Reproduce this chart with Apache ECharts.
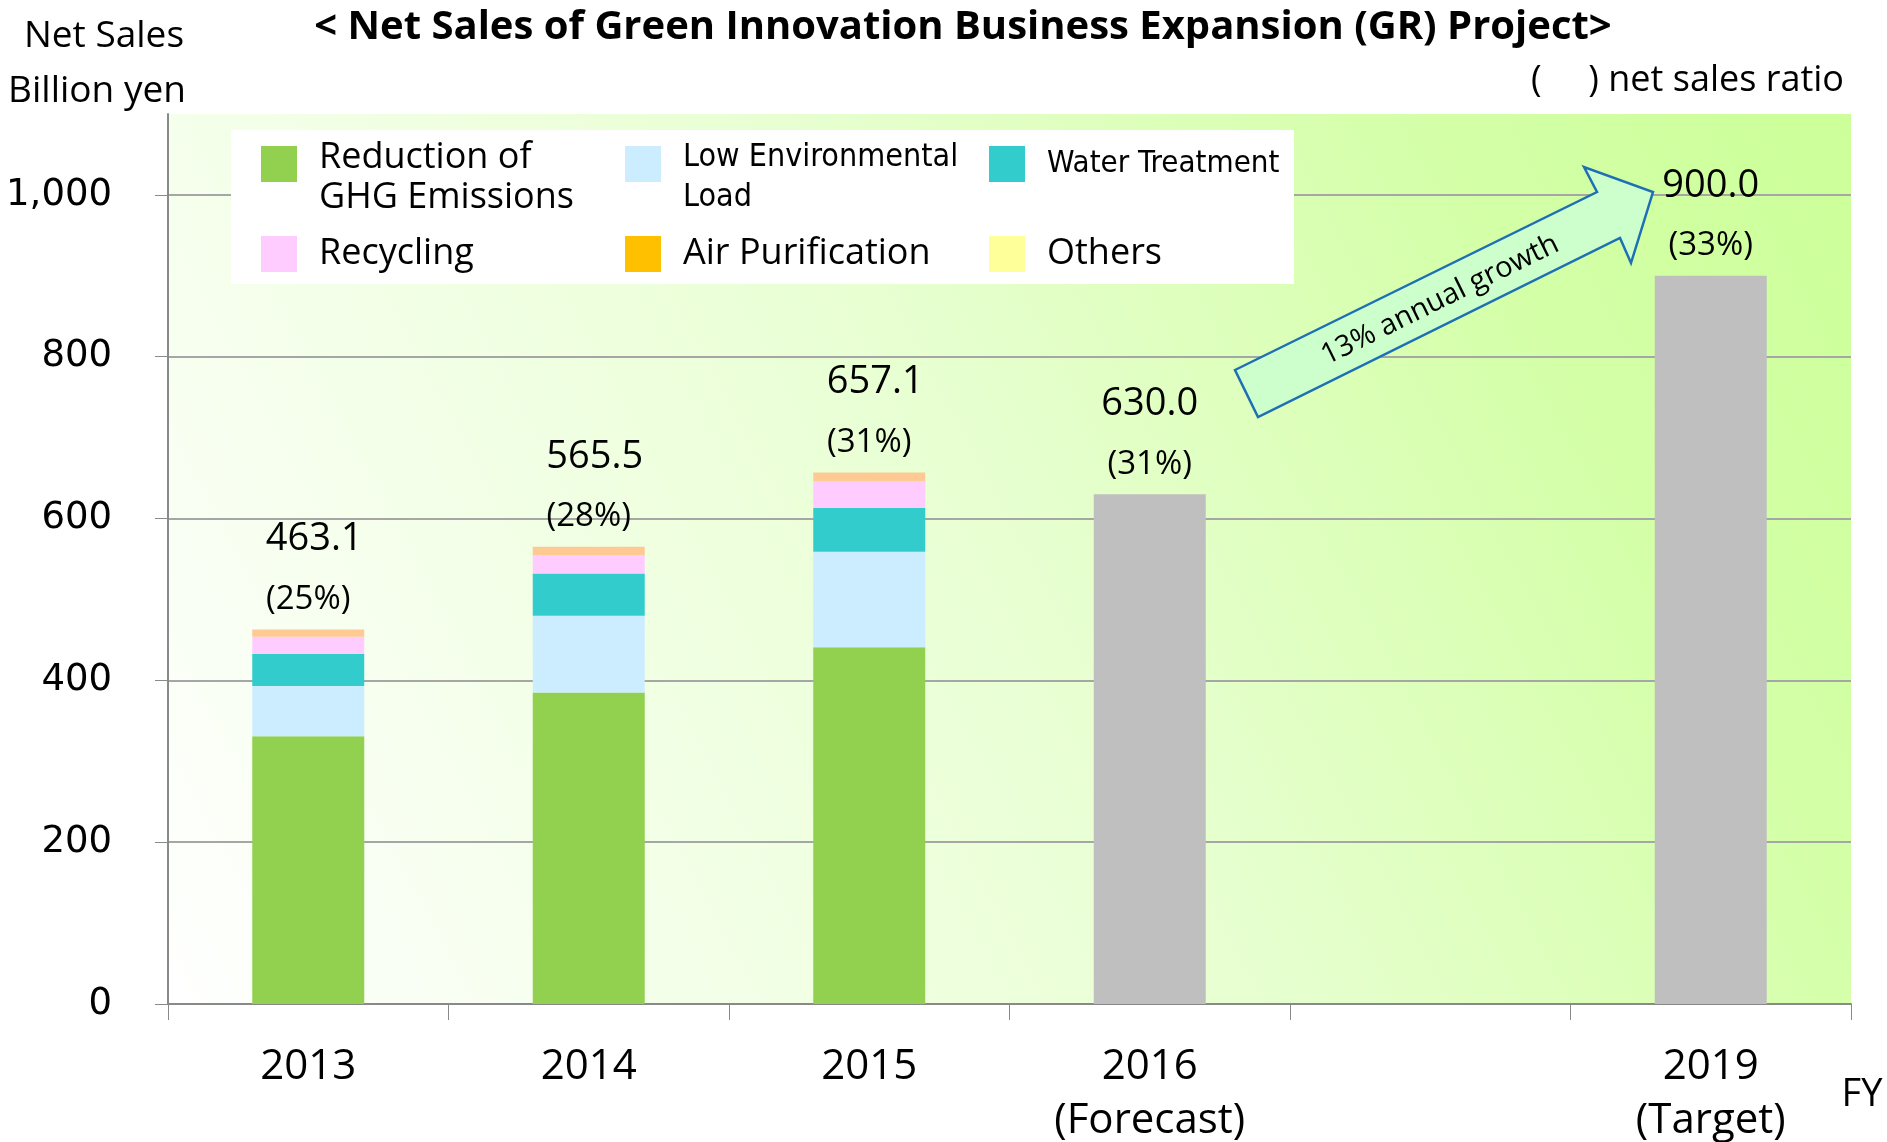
<!DOCTYPE html>
<html>
<head>
<meta charset="utf-8">
<title>Net Sales of GR Project</title>
<script src="https://cdn.jsdelivr.net/npm/echarts@6.0.0/dist/echarts.min.js"></script>
<style>
  html, body { margin: 0; padding: 0; background: #fff; }
  #main { width: 1887px; height: 1142px; }
</style>
</head>
<body>
<div id="main"></div>
<script>
// categories (FY), blank slot between 2016 and 2019
var years = ['2013', '2014', '2015', '2016\n(Forecast)', '', '2019\n(Target)'];

// segment values, billion yen
var ghg       = [331, 385, 441, '-', '-', '-'];
var lowEnv    = [62, 95, 118, '-', '-', '-'];
var water     = [40, 52, 54, '-', '-', '-'];
var recycling = [21, 23, 33, '-', '-', '-'];
var airPur    = [9, 10, 11, '-', '-', '-'];
var others    = [0, 0, 0, '-', '-', '-'];
var planTotal = ['-', '-', '-', 630, '-', 900];

// labels above bars
var totalText = ['463.1', '565.5', '657.1', '630.0', '', '900.0'];
var ratioText = ['(25%)', '(28%)', '(31%)', '(31%)', '', '(33%)'];
var yTicks = [0, 200, 400, 600, 800, 1000];

var font = '"Open Sans", sans-serif';
var narrow = '"Liberation Sans Narrow", "DejaVu Sans Condensed", "Open Sans", sans-serif';

var chartDom = document.getElementById('main');
var myChart = echarts.init(chartDom);
var option;

function topLabel(p) {
    var i = p.dataIndex;
    return '{v|' + totalText[i] + '}\n{p|' + ratioText[i] + '}';
}
function makeLabel(shift) {
    return {
        show: true,
        position: 'top',
        distance: 0,
        color: '#000',
        fontFamily: font,
        formatter: topLabel,
        rich: {
            v: {fontSize: 38, lineHeight: 60, fontFamily: font, color: '#000', padding: [0, 0, 0, shift]},
            p: {fontSize: 33, lineHeight: 60, fontFamily: font, color: '#000'}
        }
    };
}

// square at the top of a taller box so two-line names hang below the first line
var sq2 = 'path://M0,0h36v36h-36z M0,63.99h0.01v0.01h-0.01z';

var legendText = {
    fontSize: 36,
    lineHeight: 40,
    fontFamily: font,
    color: '#000',
    width: 296,
    overflow: 'none',
    padding: [0, 0, 0, 17],
    rich: {
        c: {fontSize: 32, lineHeight: 40, fontFamily: narrow, color: '#000'},
        w: {fontSize: 31, lineHeight: 40, fontFamily: narrow, color: '#000'},
        e: {fontSize: 10, lineHeight: 28}
    }
};

option = {
    animation: false,
    backgroundColor: '#fff',
    grid: {
        left: 168,
        right: 36,
        top: 114,
        bottom: 138,
        outerBoundsMode: 'none',
        show: true,
        borderWidth: 0,
        backgroundColor: {
            type: 'linear', x: 0, y: 1, x2: 1, y2: 0,
            colorStops: [
                {offset: 0, color: '#FFFFFF'},
                {offset: 0.5, color: '#E8FFD2'},
                {offset: 0.8, color: '#D4FFA8'},
                {offset: 1, color: '#CCFF99'}
            ]
        }
    },
    legend: [
        {
            left: 261, top: 138, padding: 0, itemGap: 10,
            itemWidth: 36, itemHeight: 64,
            selectedMode: false,
            textStyle: legendText,
            formatter: function (name) {
                if (name.indexOf('Low') === 0) return '{c|Low Environmental}\n{c|Load}';
                if (name === 'Water Treatment') return '{w|Water Treatment}\n{e| }';
                return name;
            },
            data: [
                {name: 'Reduction of\nGHG Emissions', icon: sq2},
                {name: 'Low Environmental\nLoad', icon: sq2},
                {name: 'Water Treatment', icon: sq2}
            ]
        },
        {
            left: 261, top: 234, padding: 0, itemGap: 10,
            itemWidth: 36, itemHeight: 36,
            selectedMode: false,
            textStyle: legendText,
            data: [
                {name: 'Recycling', icon: 'rect'},
                {name: 'Air Purification', icon: 'rect', itemStyle: {color: '#FFC000'}},
                {name: 'Others', icon: 'rect'}
            ]
        }
    ],
    xAxis: {
        type: 'category',
        data: years,
        axisLine: {lineStyle: {color: '#898989', width: 2}},
        axisTick: {show: true, length: 16, lineStyle: {color: '#898989', width: 1}},
        axisLabel: {
            margin: 36,
            fontSize: 42,
            lineHeight: 54,
            color: '#000',
            fontFamily: font,
            interval: 0
        }
    },
    yAxis: {
        type: 'value',
        min: 0,
        max: 1100,
        interval: 200,
        axisLine: {show: true, lineStyle: {color: '#898989', width: 2}},
        axisTick: {show: true, length: 13, customValues: yTicks, lineStyle: {color: '#898989', width: 1}},
        axisLabel: {
            margin: 56,
            fontSize: 37,
            color: '#000',
            fontFamily: '"DejaVu Sans", sans-serif',
            customValues: yTicks,
            formatter: function (v) { return v.toLocaleString('en-US'); }
        },
        splitLine: {show: true, lineStyle: {color: '#A6A6A6', width: 2}}
    },
    series: [
        {name: 'Reduction of\nGHG Emissions', type: 'bar', stack: 'gr', barWidth: 112,
         itemStyle: {color: '#92D050'}, data: ghg},
        {name: 'Low Environmental\nLoad', type: 'bar', stack: 'gr',
         itemStyle: {color: '#CCECFF'}, data: lowEnv},
        {name: 'Water Treatment', type: 'bar', stack: 'gr',
         itemStyle: {color: '#33CCCC'}, data: water},
        {name: 'Recycling', type: 'bar', stack: 'gr',
         itemStyle: {color: '#FFCCFF'}, data: recycling},
        {name: 'Air Purification', type: 'bar', stack: 'gr',
         itemStyle: {color: '#FFC993'}, data: airPur, label: makeLabel(12)},
        {name: 'Others', type: 'bar', stack: 'gr',
         itemStyle: {color: '#FFFF99'}, data: others},
        {name: 'Plan', type: 'bar', stack: 'gr',
         itemStyle: {color: '#BFBFBF'}, data: planTotal, label: makeLabel(0)}
    ],
    graphic: [
        // white box behind legend
        {type: 'rect', z: 3, shape: {x: 231, y: 130, width: 1063, height: 154},
         style: {fill: '#fff'}},
        // growth arrow
        {type: 'polygon', z: 5,
         shape: {points: [[1235, 370], [1597, 192], [1584, 167], [1653, 192],
                          [1631, 263], [1620, 238], [1258, 417]]},
         style: {fill: '#CCFFCC', stroke: '#1F6FB5', lineWidth: 2.5}},
        {type: 'text', z: 6, x: 1440, y: 300, rotation: 0.458,
         style: {text: '13% annual growth', font: '29px ' + font, fill: '#000',
                 align: 'center', verticalAlign: 'middle'}},
        // titles
        {type: 'text', x: 963, y: 28,
         style: {text: '< Net Sales of Green Innovation Business Expansion (GR) Project>',
                 font: 'bold 40px ' + font, fill: '#000', align: 'center', verticalAlign: 'middle'}},
        {type: 'text', x: 104, y: 36,
         style: {text: 'Net Sales', font: '37px ' + font, fill: '#000', align: 'center', verticalAlign: 'middle'}},
        {type: 'text', x: 97, y: 91,
         style: {text: 'Billion yen', font: '37px ' + font, fill: '#000', align: 'center', verticalAlign: 'middle'}},
        {type: 'text', x: 1844, y: 81,
         style: {text: '(     ) net sales ratio', font: '36px ' + font, fill: '#000', align: 'right', verticalAlign: 'middle'}},
        {type: 'text', x: 1862, y: 1095,
         style: {text: 'FY', font: '38px ' + font, fill: '#000', align: 'center', verticalAlign: 'middle'}}
    ]
};

option && myChart.setOption(option);
</script>
</body>
</html>
